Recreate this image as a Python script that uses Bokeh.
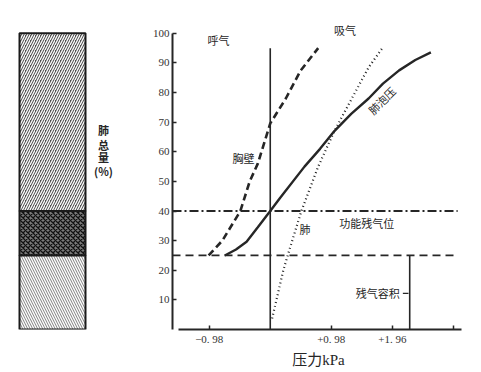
from bokeh.plotting import figure
from bokeh.layouts import row
from bokeh.models import Range1d, FixedTicker
from bokeh.core.properties import value
from bokeh.embed import file_html
from bokeh.resources import INLINE

# ---- data ----
# chest wall (dashed)
wall_x = [-0.99, -0.77, -0.48, -0.33, -0.2, 0.0, 0.25, 0.49, 0.77]
wall_y = [25, 30, 40, 50, 56, 69.6, 78, 87.5, 95]
# combined relaxation curve (solid)
total_x = [-0.73, -0.55, -0.38, -0.2, 0.0, 0.16, 0.55, 0.8, 1.03, 1.3, 1.58, 1.81, 2.07, 2.33, 2.58]
total_y = [25, 27, 29.6, 34.5, 40, 44.5, 55, 61, 67, 72.8, 78, 83, 87.5, 91, 93.6]
# lung (dotted)
lung_x = [0.03, 0.21, 0.28, 0.5, 0.77, 1.03, 1.31, 1.58, 1.8]
lung_y = [3.7, 20, 25, 40, 55, 67, 78, 88.5, 95]

zero_x = [0, 0]
zero_y = [0, 95]
frc_x = [-1.57, 3.01]
frc_y = [40, 40]
rv_x = [-1.57, 3.01]
rv_y = [25, 25]
rvline_x = [2.24, 2.24]
rvline_y = [0, 25]
rvtick_x = [2.13, 2.22]
rvtick_y = [12.2, 12.2]

x_ticks = [-0.98, 0.98, 1.96, 2.94]
x_tick_labels = {-0.98: "−0. 98", 0.98: "+0. 98", 1.96: "+1. 96", 2.94: ""}
y_ticks = [10, 20, 30, 40, 50, 60, 70, 80, 90, 100]

labels = ["呼气", "吸气", "胸壁", "肺", "功能残气位", "肺泡压"]
label_x = [-0.83, 1.2, -0.43, 0.56, 1.55, 1.79]
label_y = [97.6, 101, 58, 33.8, 36.1, 77.4]
label_angle = [0, 0, 0, 0, 0, 0.785]

rv_label = ["残气容积"]
rv_label_x = [2.08]
rv_label_y = [12.2]

bar_bottom = [40, 25, 0]
bar_top = [100, 40, 25]
bar_pattern = ["/", "x", "\\"]
bar_fill = ["#505050", "#7a7a7a", "#8a8a8a"]
bar_hatch = ["#ffffff", "#111111", "#ffffff"]

side_text = ["肺", "总", "量", "(%)"]
side_y = [67.2, 62.2, 58.1, 53.4]

# ---- layout constants ----
H = 371
TOP = 21
BOTTOM = 42
yr = Range1d(0, 104)
CJK = "Noto Sans CJK SC"
INK = "#262626"

# left figure: lung volume bar
left = figure(width=142, height=H, x_range=Range1d(0, 142), y_range=yr,
              output_backend="svg", toolbar_location=None,
              min_border_left=0, min_border_right=0,
              min_border_top=TOP, min_border_bottom=BOTTOM)
left.axis.visible = False
left.grid.visible = False
left.outline_line_color = None
for b, t, pat, fc, hc in zip(bar_bottom, bar_top, bar_pattern, bar_fill, bar_hatch):
    left.quad(left=19, right=85, bottom=b, top=t, fill_color=fc,
              hatch_pattern=pat, hatch_color=hc, hatch_scale=5,
              hatch_weight=1.3, line_color="#1a1a1a", line_width=2)
left.text(x=[103] * len(side_text), y=side_y, text=side_text,
          text_font=value(CJK), text_font_size="11px", text_font_style="bold",
          text_align="center", text_baseline="middle", text_color=INK)

# right figure: pressure-volume curves
p = figure(width=327, height=H, x_range=Range1d(-1.57, 3.12), y_range=yr,
           output_backend="svg", toolbar_location=None,
           min_border_left=30, min_border_right=5,
           min_border_top=TOP, min_border_bottom=BOTTOM)
p.grid.visible = False
p.outline_line_color = None

p.line(wall_x, wall_y, line_color=INK, line_width=2.6, line_dash="7 4")
p.line(total_x, total_y, line_color=INK, line_width=2.4)
p.line(lung_x, lung_y, line_color=INK, line_width=2.2, line_dash="1 3")
p.line(zero_x, zero_y, line_color=INK, line_width=1.6)
p.line(frc_x, frc_y, line_color=INK, line_width=2, line_dash="9 3 2 3")
p.line(rv_x, rv_y, line_color=INK, line_width=1.8, line_dash="8 5")
p.line(rvline_x, rvline_y, line_color=INK, line_width=1.6)
p.line(rvtick_x, rvtick_y, line_color=INK, line_width=1.2)

p.text(x=label_x, y=label_y, text=labels, angle=label_angle,
       text_font=value(CJK), text_font_size="11px",
       text_align="center", text_baseline="middle", text_color=INK)
p.text(x=rv_label_x, y=rv_label_y, text=rv_label,
       text_font=value(CJK), text_font_size="11px",
       text_align="right", text_baseline="middle", text_color=INK)

p.xaxis.ticker = FixedTicker(ticks=x_ticks)
p.xaxis.major_label_overrides = x_tick_labels
p.xaxis.bounds = (-1.47, 3.07)
p.yaxis.ticker = FixedTicker(ticks=y_ticks)
p.yaxis.bounds = (0, 100)
for ax in (p.xaxis[0], p.yaxis[0]):
    ax.axis_line_color = INK
    ax.axis_line_width = 2
    ax.major_tick_in = 4
    ax.major_tick_out = 0
    ax.major_tick_line_color = INK
    ax.major_tick_line_width = 1.5
    ax.minor_tick_line_color = None
    ax.major_label_text_font = "Liberation Serif"
    ax.major_label_text_font_size = "11px"
    ax.major_label_text_color = "#333333"
    ax.major_label_standoff = 3
p.xaxis.axis_label = "压力kPa"
p.xaxis.axis_label_text_font = "Liberation Serif, Noto Sans CJK SC"
p.xaxis.axis_label_text_font_size = "15px"
p.xaxis.axis_label_text_font_style = "normal"
p.xaxis.axis_label_text_color = INK
p.xaxis.axis_label_standoff = 4

layout = row(left, p)
open("out.html", "w").write(file_html(layout, INLINE))
